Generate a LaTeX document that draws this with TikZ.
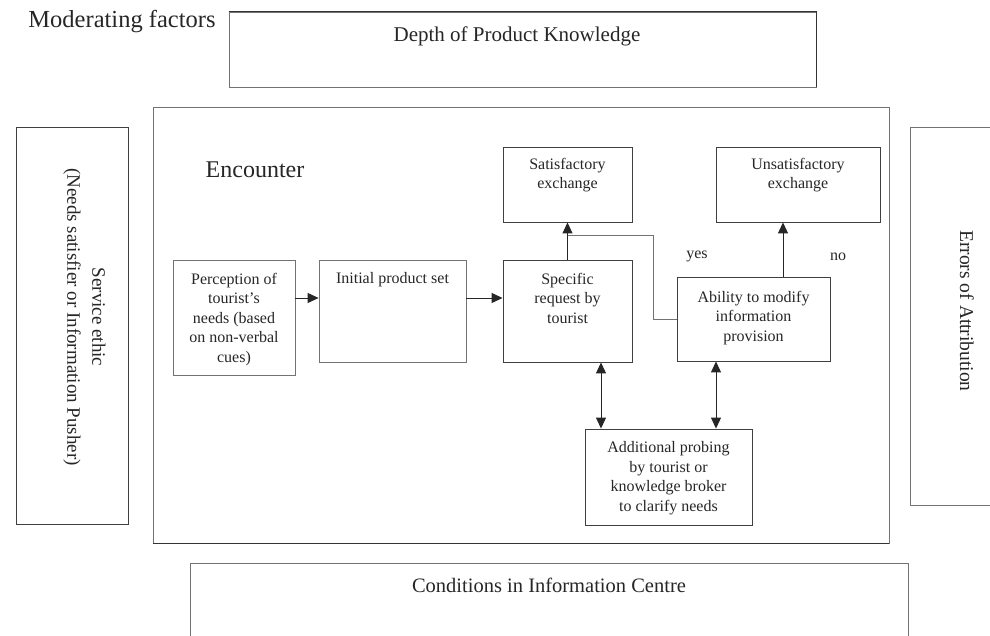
\documentclass[tikz,border=0pt]{standalone}
\usepackage{fontspec}
\setmainfont{Liberation Serif}
\usetikzlibrary{arrows.meta,calc}
\begin{document}
\begin{tikzpicture}[x=1pt,y=-1pt,
  box/.style={draw=black!75,line width=0.9pt,inner sep=0pt,rectangle},
  fbox/.style={draw=black!55,line width=0.8pt,inner sep=0pt,rectangle},
  txt/.style={inner sep=0pt,align=center,text=black!85,font=\fontsize{16}{19.5}\selectfont},
  arr/.style={draw=black!85,line width=1pt,-{Triangle[length=11pt,width=10pt]}},
  darr/.style={draw=black!85,line width=1pt,{Triangle[length=11pt,width=10pt]}-{Triangle[length=11pt,width=10pt]}},
  conn/.style={draw=black!55,line width=0.8pt}]
\useasboundingbox (0,0) rectangle (990,636);
\clip (0,0) rectangle (990,636);
% outer frames
\node[fbox,minimum width=587pt,minimum height=75pt] (depth) at (522.5,49.5) {};
\draw[black!80,line width=1.3pt] (depth.north west) -- (depth.north east) -- (depth.south east);
\node[txt,font=\fontsize{21}{25}\selectfont] (depthT) at (517,36) {Depth of Product Knowledge};
\node[txt,font=\fontsize{24.5}{28}\selectfont] (mod) at (122,22) {Moderating factors};
\node[fbox,minimum width=736pt,minimum height=436pt] (enc) at (521,325) {};
\draw[black!80,line width=1.3pt] (enc.south west) -- (enc.south east);
\node[txt,font=\fontsize{24}{28}\selectfont] (encT) at (255,170) {Encounter};
\node[box,minimum width=112pt,minimum height=397pt] (serv) at (72,325.5) {};
\node[txt,rotate=-90,font=\fontsize{19}{25}\selectfont] (servT) at (84.5,317) {Service ethic\\(Needs satisfier or Information Pusher)};
\node[fbox,minimum width=90pt,minimum height=378pt] (err) at (955,316) {};
\node[txt,rotate=-90,font=\fontsize{19.5}{24}\selectfont] (errT) at (967,311) {Errors of Attribution};
\node[fbox,minimum width=718pt,minimum height=90pt] (cond) at (549,608) {};
\node[txt,font=\fontsize{20.5}{24}\selectfont] (condT) at (549,585) {Conditions in Information Centre};
% inner boxes
\node[fbox,minimum width=122pt,minimum height=115pt] (perc) at (234,317.5) {};
\node[txt,anchor=north] (percT) at ([yshift=-13pt]perc.north) {Perception of\\tourist's\\needs (based\\on non-verbal\\cues)};
\node[fbox,minimum width=147pt,minimum height=102pt] (init) at (392.5,311) {};
\node[txt,anchor=north] (initT) at ([yshift=-13pt]init.north) {Initial product set};
\node[box,minimum width=129pt,minimum height=102pt] (spec) at (567.5,311) {};
\node[txt,anchor=north] (specT) at ([yshift=-13pt]spec.north) {Specific\\request by\\tourist};
\node[box,minimum width=129pt,minimum height=75pt] (sat) at (567.5,184.5) {};
\node[txt,anchor=north] (satT) at ([yshift=-11pt]sat.north) {Satisfactory\\exchange};
\node[box,minimum width=164pt,minimum height=75pt] (unsat) at (798,184.5) {};
\node[txt,anchor=north] (unsatT) at ([yshift=-11pt]unsat.north) {Unsatisfactory\\exchange};
\node[box,minimum width=153pt,minimum height=84pt] (abil) at (753.5,319) {};
\node[txt,anchor=north] (abilT) at ([yshift=-14pt]abil.north) {Ability to modify\\information\\provision};
\node[box,minimum width=167pt,minimum height=96pt] (add) at (668.5,477) {};
\node[txt,anchor=north] (addT) at ([yshift=-13pt]add.north) {Additional probing\\by tourist or\\knowledge broker\\to clarify needs};
\node[txt] (yes) at (697,256) {yes};
\node[txt] (no) at (838,257) {no};
% connectors
\draw[arr] (perc.east |- 0,298) -- (init.west |- 0,298);
\draw[arr] (init.east |- 0,298) -- (spec.west |- 0,298);
\draw[arr] (spec.north) -- (sat.south);
\coordinate (j) at ([yshift=-13pt]sat.south);
\draw[conn] (abil.west) -- ++(-23,0) |- (j);
\draw[arr] ([xshift=29.5pt]abil.north) -- ([xshift=29.5pt]abil.north |- unsat.south);
\draw[darr] ([xshift=33.5pt]spec.south) -- ([xshift=33.5pt]spec.south |- add.north);
\draw[darr] (abil.south -| 716,0) -- (add.north -| 716,0);
\end{tikzpicture}
\end{document}
